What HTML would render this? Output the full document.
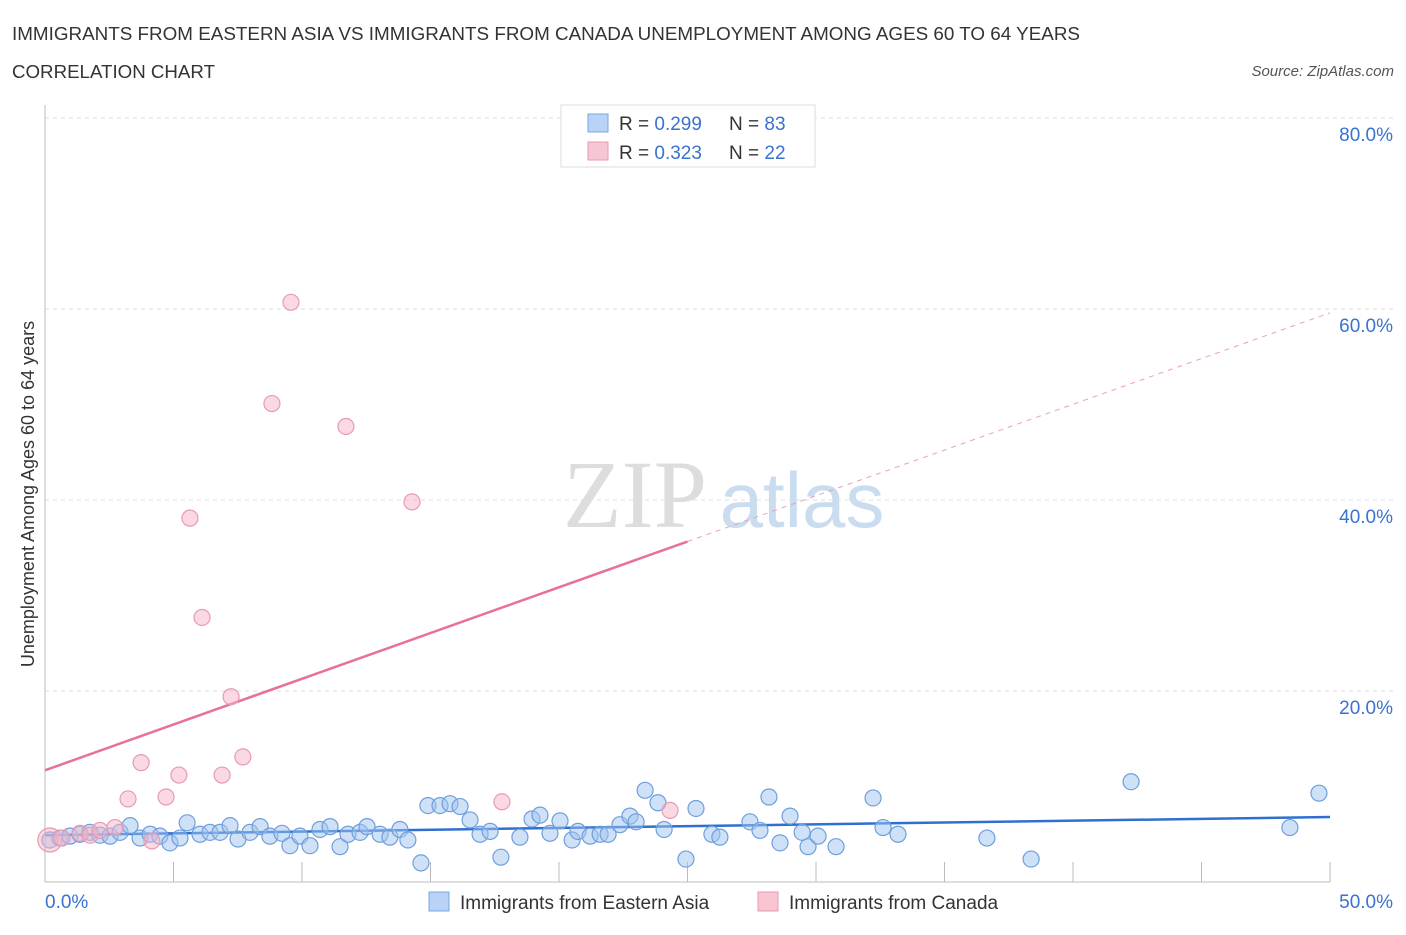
<!DOCTYPE html>
<html><head><meta charset="utf-8"><style>
body{margin:0;background:#fff;font-family:"Liberation Sans",sans-serif}
</style></head><body>
<svg id="chart" width="1406" height="930" xmlns="http://www.w3.org/2000/svg" font-family="Liberation Sans, sans-serif">
<text x="12" y="40" font-size="18" fill="#333" textLength="1068" lengthAdjust="spacingAndGlyphs">IMMIGRANTS FROM EASTERN ASIA VS IMMIGRANTS FROM CANADA UNEMPLOYMENT AMONG AGES 60 TO 64 YEARS</text>
<text x="12" y="78" font-size="18" fill="#333" textLength="203" lengthAdjust="spacingAndGlyphs">CORRELATION CHART</text>
<text x="1394" y="76" font-size="15" fill="#555" text-anchor="end" font-style="italic">Source: ZipAtlas.com</text>
<text x="635" y="527" font-size="96" fill="#ddd" text-anchor="middle" font-family="Liberation Serif, serif">ZIP</text>
<text x="802" y="527" font-size="78" fill="#c9dcf0" text-anchor="middle">atlas</text>
<text transform="translate(34,494) rotate(-90)" font-size="18" fill="#333" text-anchor="middle">Unemployment Among Ages 60 to 64 years</text>
<g id="grid"></g><g id="axes"></g><g id="trends"></g><g id="points"></g>
<g>
<rect x="561" y="105" width="254" height="62" fill="#fff" stroke="#ddd"/>
<rect x="588" y="114" width="20" height="18" fill="#b8d3f5" stroke="#7aa7e0"/>
<text x="619" y="130" font-size="19" fill="#333">R = <tspan fill="#3a72d0">0.299</tspan></text>
<text x="729" y="130" font-size="19" fill="#333">N = <tspan fill="#3a72d0">83</tspan></text>
<rect x="588" y="142" width="20" height="18" fill="#f8c6d3" stroke="#e99ab0"/>
<text x="619" y="159" font-size="19" fill="#333">R = <tspan fill="#3a72d0">0.323</tspan></text>
<text x="729" y="159" font-size="19" fill="#333">N = <tspan fill="#3a72d0">22</tspan></text>
</g>
<g>
<rect x="429" y="892" width="20" height="19" fill="#b8d3f5" stroke="#7aa7e0"/>
<text x="460" y="909" font-size="19" fill="#333">Immigrants from Eastern Asia</text>
<rect x="758" y="892" width="20" height="19" fill="#f8c6d3" stroke="#e99ab0"/>
<text x="789" y="909" font-size="19" fill="#333">Immigrants from Canada</text>
</g>
</svg>
<script>
const yTicks=[20,40,60,80];
const yTickLabels=["20.0%","40.0%","60.0%","80.0%"];
const xTickLabels=["0.0%","50.0%"];
const blueX=[0.19,0.58,0.97,1.36,1.75,2.14,2.53,2.92,3.31,3.70,4.09,4.47,4.86,5.25,5.53,6.03,6.42,6.81,7.20,7.51,7.98,8.37,8.75,9.22,9.53,9.92,10.31,10.70,11.09,11.48,11.79,12.26,12.53,13.04,13.42,13.81,14.12,14.63,14.90,15.37,15.76,16.15,16.54,16.93,17.32,17.74,18.48,18.95,19.26,19.65,20.04,20.51,20.74,21.21,21.60,21.91,22.37,22.76,23.00,23.35,23.85,24.09,24.94,25.33,25.95,26.26,27.43,27.82,28.17,28.60,28.99,29.46,29.69,30.08,30.78,32.22,32.61,33.19,36.65,38.37,42.26,48.44,49.57];
const blueY=[4.4,4.6,4.8,5.0,5.2,4.9,4.8,5.2,5.9,4.6,5.0,4.8,4.1,4.6,6.2,5.0,5.2,5.2,5.9,4.5,5.2,5.8,4.8,5.1,3.8,4.8,3.8,5.5,5.8,3.7,5.0,5.2,5.8,5.0,4.7,5.5,4.4,2.0,8.0,8.0,8.2,7.9,6.5,5.0,5.3,2.6,4.7,6.6,7.0,5.1,6.4,4.4,5.3,4.8,5.0,5.0,6.0,6.9,6.3,9.6,8.3,5.5,2.4,7.7,5.0,4.7,6.3,5.4,8.9,4.1,6.9,5.2,3.7,4.8,3.7,8.8,5.7,5.0,4.6,2.4,10.5,5.7,9.3];
const pinkX=[0.19,0.66,1.36,1.75,2.14,2.72,3.23,3.74,4.16,4.71,5.21,5.64,6.11,6.89,7.24,7.70,8.83,9.57,11.71,14.28,17.78,24.32];
const pinkY=[4.4,4.6,5.1,4.9,5.4,5.7,8.7,12.5,4.3,8.9,11.2,38.1,27.7,11.2,19.4,13.1,50.1,60.7,47.7,39.8,8.4,7.5];
const blueTrend=[4.9,6.8];
const pinkTrend=[11.7,59.6];
const pinkSolidEnd=25;
const X=v=>45+v*25.7, Y=v=>882-v*9.55;
const NS="http://www.w3.org/2000/svg";
function mk(p,t,a){const e=document.createElementNS(NS,t);for(const k in a)e.setAttribute(k,a[k]);document.getElementById(p).appendChild(e);return e;}
yTicks.forEach((t,i)=>{
 const l=mk('grid','line',{x1:45,x2:1395,y1:Y(t),y2:Y(t),stroke:'#ddd','stroke-dasharray':'4,4'});
 
 
 const tx=mk('grid','text',{x:1393,y:Y(t)+23,'font-size':19,fill:'#3a72d0','text-anchor':'end'});
 tx.textContent=yTickLabels[i];
 
 
});
const ax=mk('axes','line',{x1:45,x2:45,y1:105,y2:882,stroke:'#bbb'});


const bx=mk('axes','line',{x1:45,x2:1330,y1:882,y2:882,stroke:'#bbb'});


for(let i=0;i<=10;i++){const t=mk('axes','line',{x1:X(i*5),x2:X(i*5),y1:862,y2:882,stroke:'#bbb'});
 
 }
[[0,'start',45],[50,'end',1393]].forEach((d,i)=>{const t=mk('axes','text',{x:d[2],y:908,'font-size':19,fill:'#3a72d0','text-anchor':d[1]});t.textContent=xTickLabels[i];
 
 });
const ps=(pinkTrend[1]-pinkTrend[0])/50;
const p1=mk('trends','line',{x1:X(0),y1:Y(pinkTrend[0]),x2:X(pinkSolidEnd),y2:Y(pinkTrend[0]+ps*pinkSolidEnd),stroke:'#e8709a','stroke-width':2.5});


const p2=mk('trends','line',{x1:X(pinkSolidEnd),y1:Y(pinkTrend[0]+ps*pinkSolidEnd),x2:X(50),y2:Y(pinkTrend[1]),stroke:'#e8a0b8','stroke-width':1,'stroke-dasharray':'5,5'});


const b1=mk('trends','line',{x1:X(0),y1:Y(blueTrend[0]),x2:X(50),y2:Y(blueTrend[1]),stroke:'#2f6fd0','stroke-width':2.5});


blueX.forEach((x,i)=>{const c=mk('points','circle',{cx:X(x),cy:Y(blueY[i]),r:8,fill:'rgba(160,196,240,0.5)',stroke:'#6e9fdc','stroke-width':1.2});
 
 });
pinkX.forEach((x,i)=>{const c=mk('points','circle',{cx:X(x),cy:Y(pinkY[i]),r:i==0?12:8,fill:'rgba(246,180,200,0.5)',stroke:'#e79ab3','stroke-width':1.2});
 
 });
</script>
</body></html>
